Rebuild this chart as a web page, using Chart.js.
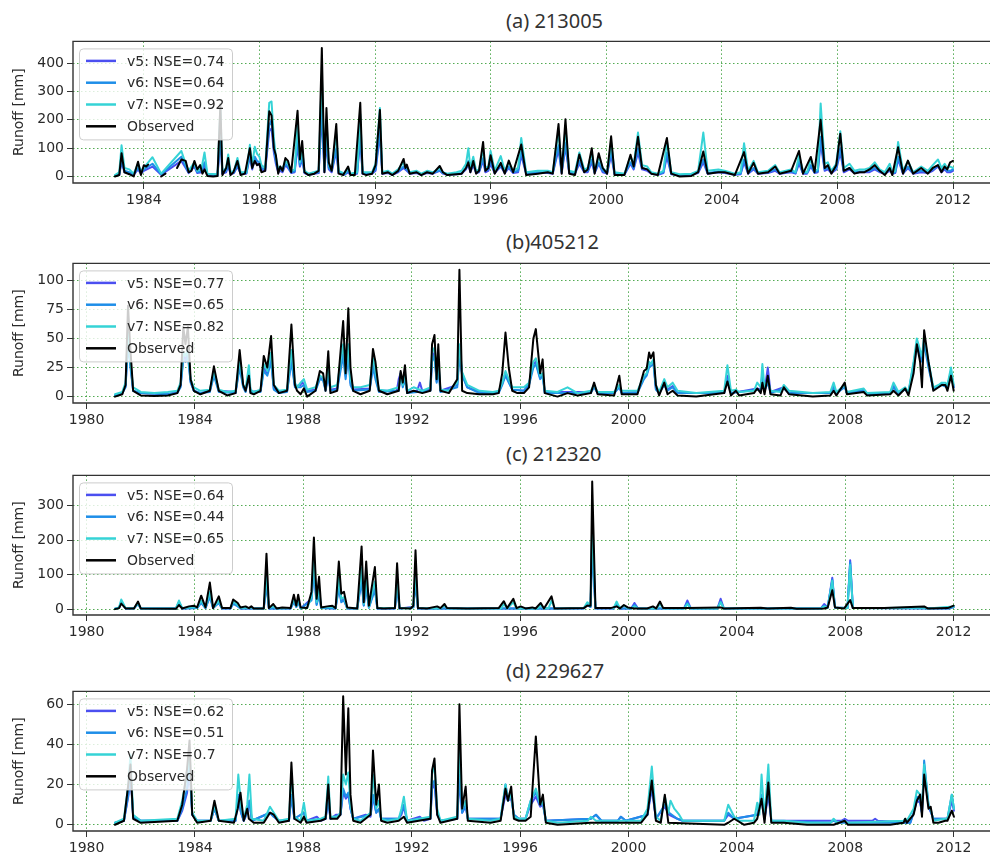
<!DOCTYPE html>
<html lang="en">
<head>
<meta charset="UTF-8">
<title>Runoff comparison</title>
<script src="https://cdn.jsdelivr.net/npm/chart.js"></script>
<style>
  body { margin: 0; background: #fff; width: 990px; height: 856px; overflow: hidden; position: relative; }
  canvas { position: absolute; left: 0; }
  .ttl { position: absolute; left: 506px; font: 20px "Noto Sans"; color: #333; line-height: 24px; white-space: nowrap; }
</style>
</head>
<body>
<div class="ttl" style="top:9px">(a) 213005</div>
<div class="ttl" style="top:230px">(b)405212</div>
<div class="ttl" style="top:442px">(c) 212320</div>
<div class="ttl" style="top:659px">(d) 229627</div>

<canvas id="cA" width="990" height="183" style="top:30px"></canvas>
<canvas id="cB" width="990" height="181" style="top:252px"></canvas>
<canvas id="cC" width="990" height="181" style="top:464px"></canvas>
<canvas id="cD" width="990" height="181" style="top:680px"></canvas>

<script>
// ---- tick labels ----
const xTicksA = [1984, 1988, 1992, 1996, 2000, 2004, 2008, 2012];
const xTicksBCD = [1980, 1984, 1988, 1992, 1996, 2000, 2004, 2008, 2012];
const yTicksA = [0, 100, 200, 300, 400];
const yTicksB = [0, 25, 50, 75, 100];
const yTicksC = [0, 100, 200, 300];
const yTicksD = [0, 20, 40, 60];

const nseA = [0.74, 0.64, 0.92];
const nseB = [0.77, 0.65, 0.82];
const nseC = [0.64, 0.44, 0.65];
const nseD = [0.62, 0.51, 0.7];

// ---- (a) 213005, [year, runoff mm] ----
const obsA = [[1983.0,0],[1983.15,5],[1983.23,82],[1983.33,15],[1983.5,8],[1983.65,0],[1983.8,52],[1983.9,5],[1984.0,40],[1984.08,35],[1984.15,42],[1984.2,null],[1984.6,0],[1984.75,10],[1984.8,null],[1985.15,30],[1985.3,60],[1985.45,55],[1985.55,15],[1985.65,20],[1985.75,55],[1985.85,25],[1985.95,40],[1986.03,10],[1986.1,25],[1986.2,2],[1986.4,0],[1986.55,2],[1986.65,255],[1986.72,5],[1986.85,30],[1986.92,65],[1987.0,5],[1987.1,15],[1987.24,55],[1987.35,5],[1987.5,10],[1987.67,100],[1987.75,30],[1987.84,55],[1987.92,40],[1988.0,45],[1988.07,15],[1988.2,20],[1988.34,230],[1988.42,215],[1988.5,100],[1988.57,75],[1988.65,10],[1988.72,35],[1988.8,20],[1988.9,65],[1988.99,55],[1989.1,15],[1989.32,232],[1989.4,60],[1989.48,125],[1989.56,15],[1989.7,5],[1989.9,10],[1990.05,20],[1990.16,454],[1990.25,15],[1990.32,242],[1990.4,50],[1990.5,20],[1990.66,185],[1990.74,10],[1990.9,5],[1991.07,35],[1991.15,5],[1991.3,5],[1991.49,260],[1991.57,10],[1991.7,5],[1991.9,10],[1992.02,40],[1992.17,235],[1992.25,10],[1992.45,15],[1992.6,5],[1992.8,20],[1992.99,62],[1993.05,30],[1993.1,42],[1993.2,10],[1993.44,15],[1993.6,5],[1993.8,15],[1994.0,10],[1994.24,37],[1994.35,15],[1994.5,5],[1994.82,8],[1995.0,10],[1995.15,30],[1995.23,50],[1995.3,15],[1995.4,55],[1995.5,10],[1995.6,20],[1995.74,122],[1995.82,20],[1995.92,30],[1996.0,75],[1996.14,10],[1996.35,48],[1996.49,10],[1996.63,56],[1996.78,15],[1997.06,113],[1997.23,5],[1997.63,10],[1997.98,15],[1998.15,10],[1998.35,185],[1998.46,10],[1998.59,202],[1998.72,10],[1998.92,5],[1999.07,78],[1999.24,15],[1999.36,25],[1999.5,100],[1999.6,10],[1999.74,82],[1999.88,30],[2000.03,10],[2000.17,142],[2000.29,5],[2000.63,5],[2000.84,77],[2000.95,35],[2001.1,140],[2001.24,30],[2001.42,25],[2001.56,10],[2001.79,5],[2002.1,136],[2002.25,10],[2002.54,0],[2002.95,2],[2003.18,15],[2003.36,88],[2003.51,10],[2003.88,15],[2004.1,15],[2004.45,5],[2004.77,86],[2004.91,10],[2005.1,48],[2005.25,10],[2005.6,15],[2005.85,35],[2006.0,10],[2006.4,20],[2006.67,90],[2006.81,10],[2007.08,69],[2007.21,15],[2007.42,200],[2007.56,30],[2007.67,40],[2007.79,10],[2007.96,40],[2008.1,151],[2008.22,20],[2008.42,30],[2008.59,10],[2008.77,15],[2008.94,15],[2009.11,25],[2009.29,40],[2009.46,20],[2009.64,5],[2009.81,30],[2009.9,5],[2010.1,103],[2010.27,10],[2010.44,56],[2010.62,10],[2010.9,30],[2011.13,10],[2011.3,30],[2011.48,40],[2011.6,15],[2011.71,35],[2011.8,25],[2011.9,50],[2012.0,55]];
const v7A = [[1983.0,5],[1983.15,15],[1983.23,110],[1983.33,30],[1983.5,25],[1983.65,10],[1983.8,45],[1983.9,20],[1984.0,30],[1984.3,68],[1984.6,10],[1985.3,90],[1985.45,45],[1985.55,20],[1985.75,50],[1985.85,20],[1986.0,30],[1986.1,85],[1986.2,10],[1986.55,8],[1986.65,240],[1986.72,15],[1986.85,30],[1986.92,78],[1987.0,15],[1987.12,20],[1987.24,65],[1987.35,15],[1987.55,15],[1987.67,112],[1987.75,40],[1987.84,105],[1987.92,80],[1988.0,70],[1988.07,40],[1988.2,30],[1988.34,260],[1988.42,265],[1988.5,135],[1988.57,70],[1988.65,25],[1988.72,35],[1988.8,25],[1988.9,55],[1988.99,45],[1989.1,20],[1989.22,25],[1989.32,190],[1989.4,50],[1989.48,95],[1989.56,20],[1989.7,10],[1990.05,20],[1990.16,360],[1990.25,25],[1990.32,200],[1990.4,40],[1990.5,25],[1990.66,150],[1990.74,20],[1990.95,10],[1991.07,30],[1991.15,10],[1991.38,15],[1991.49,220],[1991.57,15],[1991.9,15],[1992.02,45],[1992.17,242],[1992.25,15],[1992.45,20],[1992.6,10],[1992.8,25],[1992.99,50],[1993.05,30],[1993.1,35],[1993.2,15],[1993.44,20],[1993.6,10],[1993.8,20],[1994.0,15],[1994.24,30],[1994.35,15],[1994.5,10],[1994.82,15],[1995.0,20],[1995.15,45],[1995.23,100],[1995.3,30],[1995.4,70],[1995.5,20],[1995.6,25],[1995.74,95],[1995.82,30],[1995.92,35],[1996.0,90],[1996.14,20],[1996.35,72],[1996.49,20],[1996.63,50],[1996.78,20],[1996.95,30],[1997.06,136],[1997.23,15],[1997.63,20],[1997.98,20],[1998.15,15],[1998.35,160],[1998.46,20],[1998.59,170],[1998.72,20],[1998.92,15],[1999.07,85],[1999.24,25],[1999.36,30],[1999.5,85],[1999.6,20],[1999.74,70],[1999.88,30],[2000.03,15],[2000.17,120],[2000.29,15],[2000.63,10],[2000.84,70],[2000.95,40],[2001.1,155],[2001.24,40],[2001.42,35],[2001.56,15],[2001.79,10],[2001.98,20],[2002.1,125],[2002.25,15],[2002.54,8],[2002.95,10],[2003.18,20],[2003.36,155],[2003.51,20],[2003.88,25],[2004.1,20],[2004.45,10],[2004.65,15],[2004.77,117],[2004.91,20],[2005.1,55],[2005.25,15],[2005.6,20],[2005.85,40],[2006.0,15],[2006.4,25],[2006.55,15],[2006.67,75],[2006.81,20],[2006.95,15],[2007.08,62],[2007.21,20],[2007.32,25],[2007.42,258],[2007.56,45],[2007.67,50],[2007.79,20],[2007.96,45],[2008.1,160],[2008.22,30],[2008.42,45],[2008.59,20],[2008.77,25],[2008.94,25],[2009.11,30],[2009.29,50],[2009.46,25],[2009.64,15],[2009.81,45],[2009.9,15],[2010.0,20],[2010.1,122],[2010.27,20],[2010.44,55],[2010.62,15],[2010.9,35],[2011.13,20],[2011.3,40],[2011.48,60],[2011.6,30],[2011.71,45],[2011.8,30],[2011.9,35],[2012.0,30]];
const v6A = [[1983.0,3],[1983.15,8],[1983.23,60],[1983.33,20],[1983.5,15],[1983.65,8],[1983.8,30],[1983.9,12],[1984.0,25],[1984.3,45],[1984.6,8],[1985.3,70],[1985.45,35],[1985.55,15],[1985.75,40],[1985.85,15],[1986.0,20],[1986.1,50],[1986.2,8],[1986.55,5],[1986.65,150],[1986.72,12],[1986.85,20],[1986.92,50],[1987.0,10],[1987.12,15],[1987.24,40],[1987.35,12],[1987.55,12],[1987.67,80],[1987.75,30],[1987.84,70],[1987.92,55],[1988.0,50],[1988.07,30],[1988.2,25],[1988.34,180],[1988.42,200],[1988.5,100],[1988.57,55],[1988.65,20],[1988.72,25],[1988.8,20],[1988.9,45],[1988.99,35],[1989.1,15],[1989.22,18],[1989.32,130],[1989.4,40],[1989.48,70],[1989.56,15],[1989.7,8],[1990.05,15],[1990.16,250],[1990.25,20],[1990.32,140],[1990.4,30],[1990.5,20],[1990.66,100],[1990.74,15],[1990.95,8],[1991.07,20],[1991.15,8],[1991.38,12],[1991.49,150],[1991.57,12],[1991.9,12],[1992.02,25],[1992.17,170],[1992.25,12],[1992.45,15],[1992.6,8],[1992.8,18],[1992.99,35],[1993.1,25],[1993.2,12],[1993.44,15],[1993.6,8],[1993.8,15],[1994.0,12],[1994.24,22],[1994.35,12],[1994.5,8],[1994.82,10],[1995.0,12],[1995.15,30],[1995.23,55],[1995.3,20],[1995.4,45],[1995.5,15],[1995.6,18],[1995.74,65],[1995.82,20],[1995.92,25],[1996.0,55],[1996.14,15],[1996.35,40],[1996.49,15],[1996.63,35],[1996.78,15],[1996.95,20],[1997.06,90],[1997.23,12],[1997.63,15],[1997.98,15],[1998.15,12],[1998.35,110],[1998.46,15],[1998.59,120],[1998.72,15],[1998.92,12],[1999.07,55],[1999.24,18],[1999.36,20],[1999.5,60],[1999.6,15],[1999.74,50],[1999.88,20],[2000.03,12],[2000.17,90],[2000.29,10],[2000.63,8],[2000.84,50],[2000.95,30],[2001.1,100],[2001.24,30],[2001.42,25],[2001.56,12],[2001.79,8],[2001.98,15],[2002.1,85],[2002.25,10],[2002.54,5],[2002.95,8],[2003.18,15],[2003.36,60],[2003.51,12],[2003.88,18],[2004.1,15],[2004.45,8],[2004.65,10],[2004.77,60],[2004.91,12],[2005.1,30],[2005.25,12],[2005.6,15],[2005.85,25],[2006.0,12],[2006.4,18],[2006.55,12],[2006.67,55],[2006.81,12],[2006.95,12],[2007.08,40],[2007.21,15],[2007.32,18],[2007.42,140],[2007.56,25],[2007.67,30],[2007.79,15],[2007.96,30],[2008.1,100],[2008.22,20],[2008.42,30],[2008.59,15],[2008.77,18],[2008.94,18],[2009.11,20],[2009.29,30],[2009.46,18],[2009.64,12],[2009.81,25],[2009.9,12],[2010.0,15],[2010.1,70],[2010.27,12],[2010.44,35],[2010.62,12],[2010.9,20],[2011.13,15],[2011.3,25],[2011.48,40],[2011.6,20],[2011.71,30],[2011.8,20],[2011.9,20],[2012.0,25]];
const v5A = [[1983.0,2],[1983.15,6],[1983.23,50],[1983.33,15],[1983.5,12],[1983.65,6],[1983.8,25],[1983.9,10],[1984.0,20],[1984.3,35],[1984.6,6],[1985.3,55],[1985.45,30],[1985.55,12],[1985.75,35],[1985.85,12],[1986.0,15],[1986.1,40],[1986.2,6],[1986.55,4],[1986.65,130],[1986.72,10],[1986.85,15],[1986.92,40],[1987.0,8],[1987.12,12],[1987.24,35],[1987.35,10],[1987.55,10],[1987.67,70],[1987.75,25],[1987.84,60],[1987.92,45],[1988.0,40],[1988.07,25],[1988.2,20],[1988.34,160],[1988.42,170],[1988.5,85],[1988.57,45],[1988.65,15],[1988.72,20],[1988.8,15],[1988.9,40],[1988.99,30],[1989.1,12],[1989.22,15],[1989.32,110],[1989.4,35],[1989.48,60],[1989.56,12],[1989.7,6],[1990.05,12],[1990.16,220],[1990.25,15],[1990.32,120],[1990.4,25],[1990.5,15],[1990.66,90],[1990.74,12],[1990.95,6],[1991.07,15],[1991.15,6],[1991.38,10],[1991.49,130],[1991.57,10],[1991.9,10],[1992.02,20],[1992.17,150],[1992.25,10],[1992.45,12],[1992.6,6],[1992.8,15],[1992.99,30],[1993.1,20],[1993.2,10],[1993.44,12],[1993.6,6],[1993.8,12],[1994.0,10],[1994.24,20],[1994.35,10],[1994.5,6],[1994.82,8],[1995.0,10],[1995.15,25],[1995.23,45],[1995.3,15],[1995.4,40],[1995.5,12],[1995.6,15],[1995.74,55],[1995.82,15],[1995.92,20],[1996.0,45],[1996.14,12],[1996.35,35],[1996.49,12],[1996.63,30],[1996.78,12],[1996.95,15],[1997.06,75],[1997.23,10],[1997.63,12],[1997.98,12],[1998.15,10],[1998.35,95],[1998.46,12],[1998.59,105],[1998.72,12],[1998.92,10],[1999.07,45],[1999.24,15],[1999.36,15],[1999.5,50],[1999.6,12],[1999.74,45],[1999.88,15],[2000.03,10],[2000.17,75],[2000.29,8],[2000.63,6],[2000.84,45],[2000.95,25],[2001.1,85],[2001.24,25],[2001.42,20],[2001.56,10],[2001.79,6],[2001.98,12],[2002.1,70],[2002.25,8],[2002.54,4],[2002.95,6],[2003.18,12],[2003.36,50],[2003.51,10],[2003.88,15],[2004.1,12],[2004.45,6],[2004.65,8],[2004.77,50],[2004.91,10],[2005.1,25],[2005.25,10],[2005.6,12],[2005.85,20],[2006.0,10],[2006.4,15],[2006.55,10],[2006.67,45],[2006.81,10],[2006.95,10],[2007.08,35],[2007.21,12],[2007.32,15],[2007.42,120],[2007.56,20],[2007.67,25],[2007.79,12],[2007.96,25],[2008.1,85],[2008.22,15],[2008.42,25],[2008.59,12],[2008.77,15],[2008.94,15],[2009.11,15],[2009.29,25],[2009.46,15],[2009.64,10],[2009.81,20],[2009.9,10],[2010.0,12],[2010.1,60],[2010.27,10],[2010.44,30],[2010.62,10],[2010.9,15],[2011.13,12],[2011.3,20],[2011.48,35],[2011.6,15],[2011.71,25],[2011.8,15],[2011.9,15],[2012.0,20]];

// ---- (b) 405212 ----
const obsB = [[1981.05,0],[1981.32,2],[1981.44,10],[1981.53,78],[1981.62,40],[1981.72,5],[1982.0,1],[1982.5,0.5],[1983.0,1],[1983.35,3],[1983.47,10],[1983.57,60],[1983.65,45],[1983.74,60],[1983.84,15],[1983.96,5],[1984.2,2],[1984.55,5],[1984.7,26],[1984.88,5],[1985.19,1],[1985.5,3],[1985.65,40],[1985.78,10],[1985.87,5],[1985.99,18],[1986.05,3],[1986.17,2],[1986.42,5],[1986.54,35],[1986.67,25],[1986.81,52],[1986.91,10],[1987.1,3],[1987.4,5],[1987.56,62],[1987.69,10],[1987.77,5],[1987.9,2],[1988.02,7],[1988.14,0],[1988.45,5],[1988.61,22],[1988.73,20],[1988.82,5],[1988.92,39],[1989.0,3],[1989.25,5],[1989.47,65],[1989.56,20],[1989.66,76],[1989.74,25],[1989.84,5],[1990.11,2],[1990.45,5],[1990.57,41],[1990.66,30],[1990.79,5],[1991.1,2],[1991.52,5],[1991.59,22],[1991.67,12],[1991.75,27],[1991.83,3],[1992.07,5],[1992.39,3],[1992.69,5],[1992.75,45],[1992.84,53],[1992.92,15],[1992.98,45],[1993.06,5],[1993.37,3],[1993.68,15],[1993.76,109],[1993.86,5],[1994.05,3],[1994.5,2],[1995.0,2],[1995.21,3],[1995.34,20],[1995.46,55],[1995.58,25],[1995.71,5],[1995.9,3],[1996.14,3],[1996.33,8],[1996.49,50],[1996.58,58],[1996.74,20],[1996.83,32],[1996.91,3],[1997.38,0],[1997.75,3],[1998.12,1],[1998.61,3],[1998.73,12],[1998.86,2],[1999.47,1],[1999.66,18],[1999.75,2],[2000.33,2],[2000.57,22],[2000.67,24],[2000.76,38],[2000.82,33],[2000.92,38],[2001.01,10],[2001.13,1],[2001.32,12],[2001.44,2],[2001.63,5],[2001.81,1],[2002.5,0],[2003.53,3],[2003.65,13],[2003.78,1],[2003.96,5],[2004.08,1],[2004.63,3],[2004.75,7],[2004.88,3],[2004.94,12],[2005.02,2],[2005.14,18],[2005.24,2],[2005.61,1],[2005.73,8],[2005.92,2],[2006.8,0],[2007.45,1],[2007.57,5],[2007.67,1],[2007.98,12],[2008.06,2],[2008.68,4],[2008.8,1],[2009.66,2],[2009.78,5],[2009.96,1],[2010.21,7],[2010.33,1],[2010.52,20],[2010.64,45],[2010.76,30],[2010.83,8],[2010.91,57],[2011.07,30],[2011.25,5],[2011.44,8],[2011.56,10],[2011.69,10],[2011.77,5],[2011.9,18],[2012.0,5]];
const v7B = [[1981.05,2],[1981.32,4],[1981.44,12],[1981.53,55],[1981.62,30],[1981.72,8],[1982.0,4],[1982.5,3],[1983.0,4],[1983.35,5],[1983.47,12],[1983.57,38],[1983.65,35],[1983.74,40],[1983.84,15],[1983.96,8],[1984.2,5],[1984.55,6],[1984.7,22],[1984.88,6],[1985.19,4],[1985.5,5],[1985.65,32],[1985.78,10],[1985.87,6],[1985.99,27],[1986.05,6],[1986.17,4],[1986.42,6],[1986.54,28],[1986.67,22],[1986.81,38],[1986.91,10],[1987.1,5],[1987.4,6],[1987.56,40],[1987.69,12],[1987.77,8],[1987.9,12],[1988.02,15],[1988.14,6],[1988.45,8],[1988.61,18],[1988.73,16],[1988.82,8],[1988.92,25],[1989.0,8],[1989.25,10],[1989.47,45],[1989.56,20],[1989.66,45],[1989.74,15],[1989.84,8],[1990.11,8],[1990.45,10],[1990.57,33],[1990.66,22],[1990.79,6],[1991.1,5],[1991.52,8],[1991.59,18],[1991.67,10],[1991.75,20],[1991.83,5],[1992.07,8],[1992.39,5],[1992.69,8],[1992.75,38],[1992.84,42],[1992.92,15],[1992.98,32],[1993.06,6],[1993.37,5],[1993.68,12],[1993.76,45],[1993.86,21],[1994.05,10],[1994.5,5],[1995.0,4],[1995.21,5],[1995.34,12],[1995.46,22],[1995.58,15],[1995.71,8],[1995.9,8],[1996.14,8],[1996.33,12],[1996.49,30],[1996.58,33],[1996.74,18],[1996.83,20],[1996.91,5],[1997.38,4],[1997.75,8],[1998.12,3],[1998.61,5],[1998.73,10],[1998.86,4],[1999.47,4],[1999.66,10],[1999.75,5],[2000.33,5],[2000.57,18],[2000.67,20],[2000.76,30],[2000.82,28],[2000.92,32],[2001.01,10],[2001.13,4],[2001.32,15],[2001.44,8],[2001.63,12],[2001.81,5],[2002.5,3],[2003.53,5],[2003.65,27],[2003.78,5],[2003.96,6],[2004.08,4],[2004.63,5],[2004.75,12],[2004.88,8],[2004.94,28],[2005.02,8],[2005.14,15],[2005.24,5],[2005.61,4],[2005.73,10],[2005.92,5],[2006.8,3],[2007.45,4],[2007.57,12],[2007.67,4],[2007.98,10],[2008.06,4],[2008.68,7],[2008.8,3],[2009.66,4],[2009.78,12],[2009.96,4],[2010.21,8],[2010.33,4],[2010.52,30],[2010.64,50],[2010.76,40],[2010.83,35],[2010.91,52],[2011.07,30],[2011.25,8],[2011.44,10],[2011.56,12],[2011.69,12],[2011.77,10],[2011.9,25],[2012.0,10]];
const v6B = [[1981.05,1],[1981.32,3],[1981.44,8],[1981.53,45],[1981.62,25],[1981.72,5],[1982.0,3],[1983.0,2],[1983.35,3],[1983.47,8],[1983.57,32],[1983.65,30],[1983.74,35],[1983.84,12],[1983.96,5],[1984.2,3],[1984.55,4],[1984.7,18],[1984.88,4],[1985.5,3],[1985.65,25],[1985.78,8],[1985.87,4],[1985.99,18],[1986.05,4],[1986.42,4],[1986.54,22],[1986.67,18],[1986.81,30],[1986.91,6],[1987.1,3],[1987.4,4],[1987.56,30],[1987.69,8],[1987.9,8],[1988.02,10],[1988.14,4],[1988.45,5],[1988.61,15],[1988.73,14],[1988.82,5],[1988.92,18],[1989.0,5],[1989.25,6],[1989.47,35],[1989.56,15],[1989.66,35],[1989.74,10],[1989.84,5],[1990.45,6],[1990.57,25],[1990.66,15],[1990.79,4],[1991.52,5],[1991.59,20],[1991.67,8],[1991.75,15],[1991.83,3],[1992.69,5],[1992.75,30],[1992.84,35],[1992.92,12],[1992.98,25],[1993.06,4],[1993.68,8],[1993.76,35],[1993.86,18],[1994.05,8],[1994.5,3],[1995.21,3],[1995.34,10],[1995.46,18],[1995.58,12],[1995.71,6],[1996.14,5],[1996.33,10],[1996.49,25],[1996.58,28],[1996.74,15],[1996.83,18],[1996.91,3],[1998.61,3],[1998.73,8],[1998.86,3],[1999.47,3],[1999.66,8],[1999.75,3],[2000.33,3],[2000.57,15],[2000.67,18],[2000.76,25],[2000.92,28],[2001.01,6],[2001.13,3],[2001.32,10],[2001.44,5],[2001.63,8],[2001.81,3],[2003.53,3],[2003.65,15],[2003.78,3],[2004.75,6],[2004.88,5],[2004.94,18],[2005.02,5],[2005.14,12],[2005.24,3],[2005.73,7],[2005.92,3],[2007.45,3],[2007.57,8],[2007.67,3],[2007.98,8],[2008.06,3],[2008.68,5],[2008.8,2],[2009.66,3],[2009.78,8],[2009.96,3],[2010.21,6],[2010.33,3],[2010.52,25],[2010.64,42],[2010.76,35],[2010.83,30],[2010.91,45],[2011.07,25],[2011.25,6],[2011.56,10],[2011.77,8],[2011.9,20],[2012.0,8]];
const v5B = [[1981.05,1],[1981.32,3],[1981.44,9],[1981.53,50],[1981.62,28],[1981.72,5],[1982.0,3],[1983.0,2],[1983.35,4],[1983.47,9],[1983.57,35],[1983.65,32],[1983.74,38],[1983.84,13],[1983.96,5],[1984.2,3],[1984.55,5],[1984.7,20],[1984.88,5],[1985.5,4],[1985.65,28],[1985.78,9],[1985.87,5],[1985.99,20],[1986.05,4],[1986.42,5],[1986.54,25],[1986.67,20],[1986.81,33],[1986.91,7],[1987.1,4],[1987.4,5],[1987.56,33],[1987.69,9],[1987.9,10],[1987.95,13],[1988.14,5],[1988.45,6],[1988.61,17],[1988.73,15],[1988.82,6],[1988.92,20],[1989.0,6],[1989.25,7],[1989.47,40],[1989.56,18],[1989.66,40],[1989.74,12],[1989.84,6],[1990.45,7],[1990.57,28],[1990.66,18],[1990.79,5],[1991.45,5],[1991.52,15],[1991.59,20],[1991.67,10],[1991.75,18],[1991.83,4],[1992.2,5],[1992.3,12],[1992.39,5],[1992.69,6],[1992.75,33],[1992.84,38],[1992.92,13],[1992.98,28],[1993.06,5],[1993.68,10],[1993.76,40],[1993.86,20],[1994.05,8],[1994.5,4],[1995.21,4],[1995.34,11],[1995.46,20],[1995.58,13],[1995.71,6],[1996.14,5],[1996.33,11],[1996.49,28],[1996.58,30],[1996.74,16],[1996.83,19],[1996.91,4],[1998.61,4],[1998.73,9],[1998.86,3],[1999.47,3],[1999.66,9],[1999.75,3],[2000.33,4],[2000.57,16],[2000.67,19],[2000.76,28],[2000.92,30],[2001.01,7],[2001.13,3],[2001.32,12],[2001.44,6],[2001.63,9],[2001.81,3],[2003.53,3],[2003.65,18],[2003.78,3],[2004.75,7],[2004.88,6],[2004.94,20],[2005.02,5],[2005.14,25],[2005.24,4],[2005.73,8],[2005.92,3],[2007.45,3],[2007.57,9],[2007.67,3],[2007.98,9],[2008.06,3],[2008.68,6],[2008.8,3],[2009.66,3],[2009.78,9],[2009.96,3],[2010.21,7],[2010.33,3],[2010.52,28],[2010.64,45],[2010.76,38],[2010.83,32],[2010.91,48],[2011.07,28],[2011.25,6],[2011.56,11],[2011.77,9],[2011.9,22],[2012.0,8]];

// ---- (c) 212320 ----
const obsC = [[1981.05,0],[1981.2,3],[1981.28,16],[1981.44,2],[1981.75,2],[1981.9,22],[1982.0,2],[1983.3,1],[1983.41,12],[1983.53,2],[1983.78,8],[1983.96,10],[1984.08,5],[1984.23,39],[1984.39,5],[1984.55,77],[1984.67,3],[1984.88,37],[1985.0,3],[1985.31,3],[1985.41,28],[1985.58,18],[1985.68,5],[1985.87,8],[1985.99,3],[1986.08,8],[1986.17,2],[1986.54,2],[1986.64,161],[1986.73,3],[1986.89,15],[1987.01,2],[1987.22,5],[1987.53,3],[1987.65,42],[1987.74,10],[1987.81,42],[1987.9,5],[1988.14,3],[1988.3,50],[1988.39,208],[1988.49,30],[1988.58,94],[1988.66,5],[1988.88,8],[1989.07,10],[1989.19,3],[1989.31,138],[1989.4,45],[1989.5,50],[1989.62,5],[1989.99,2],[1990.15,182],[1990.23,20],[1990.32,138],[1990.42,10],[1990.64,122],[1990.73,3],[1990.97,2],[1991.38,3],[1991.46,133],[1991.55,3],[1991.96,2],[1992.06,10],[1992.14,171],[1992.23,3],[1992.57,2],[1992.94,8],[1993.06,3],[1993.21,15],[1993.3,3],[1994.05,2],[1995.21,3],[1995.4,23],[1995.52,3],[1995.75,30],[1995.87,3],[1996.02,8],[1996.2,2],[1996.45,5],[1996.57,2],[1996.76,18],[1996.88,2],[1997.16,37],[1997.27,2],[1998.35,3],[1998.48,10],[1998.6,10],[1998.66,370],[1998.78,3],[1999.34,3],[1999.56,8],[1999.68,2],[1999.83,12],[1999.97,5],[2000.22,2],[2000.69,2],[2000.9,8],[2001.02,2],[2001.16,22],[2001.28,3],[2002.17,3],[2003.4,5],[2003.52,2],[2004.88,4],[2005.13,2],[2005.99,4],[2006.2,1],[2007.22,2],[2007.35,5],[2007.52,55],[2007.62,5],[2007.96,2],[2008.18,26],[2008.28,3],[2009.44,3],[2010.91,8],[2011.04,2],[2011.78,3],[2012.0,10]];
const v7C = [[1981.05,1],[1981.2,5],[1981.28,28],[1981.44,3],[1981.75,2],[1981.9,18],[1982.0,2],[1983.3,2],[1983.41,25],[1983.53,3],[1983.78,5],[1983.96,6],[1984.08,4],[1984.23,25],[1984.39,4],[1984.55,50],[1984.67,4],[1984.88,25],[1985.0,3],[1985.31,3],[1985.41,22],[1985.58,12],[1985.68,4],[1985.87,5],[1985.99,3],[1986.08,5],[1986.17,2],[1986.54,2],[1986.64,100],[1986.73,3],[1986.89,8],[1987.01,2],[1987.53,3],[1987.65,30],[1987.74,8],[1987.81,30],[1987.9,3],[1988.14,3],[1988.3,35],[1988.39,150],[1988.49,20],[1988.58,60],[1988.66,4],[1988.88,6],[1989.07,7],[1989.19,3],[1989.31,90],[1989.4,30],[1989.5,35],[1989.62,3],[1989.99,2],[1990.15,120],[1990.23,15],[1990.32,90],[1990.42,6],[1990.64,80],[1990.73,3],[1991.38,3],[1991.46,90],[1991.55,3],[1991.96,2],[1992.06,8],[1992.14,110],[1992.23,3],[1993.06,2],[1993.21,10],[1993.3,2],[1995.3,2],[1995.4,15],[1995.52,2],[1995.75,20],[1995.87,2],[1996.66,2],[1996.76,12],[1996.88,2],[1997.05,3],[1997.16,25],[1997.27,2],[1998.35,3],[1998.48,20],[1998.6,10],[1998.66,250],[1998.78,3],[1999.45,3],[1999.56,22],[1999.68,3],[1999.83,10],[1999.97,3],[2000.1,2],[2000.22,8],[2000.35,2],[2001.05,2],[2001.16,15],[2001.28,2],[2002.05,2],[2002.17,15],[2002.3,2],[2003.28,2],[2003.4,20],[2003.52,2],[2007.1,2],[2007.22,8],[2007.35,5],[2007.52,82],[2007.62,5],[2008.08,3],[2008.18,128],[2008.28,3],[2009.4,3],[2010.9,5],[2011.05,2],[2012.0,8]];
const v6C = [[1981.05,1],[1981.2,4],[1981.28,20],[1981.44,2],[1981.75,2],[1981.9,15],[1982.0,2],[1983.3,2],[1983.41,18],[1983.53,2],[1984.08,3],[1984.23,18],[1984.39,3],[1984.55,35],[1984.67,3],[1984.88,18],[1985.0,2],[1985.31,2],[1985.41,15],[1985.58,8],[1985.68,2],[1986.54,2],[1986.64,70],[1986.73,2],[1987.53,2],[1987.65,20],[1987.74,6],[1987.81,20],[1987.9,2],[1988.3,25],[1988.39,110],[1988.49,12],[1988.58,40],[1988.66,3],[1989.19,2],[1989.31,60],[1989.4,20],[1989.5,25],[1989.62,2],[1989.99,2],[1990.15,80],[1990.23,10],[1990.32,60],[1990.42,4],[1990.64,55],[1990.73,2],[1991.38,2],[1991.46,60],[1991.55,2],[1992.06,5],[1992.14,75],[1992.23,2],[1998.35,2],[1998.48,12],[1998.6,6],[1998.66,180],[1998.78,2],[1999.45,2],[1999.56,12],[1999.68,2],[2000.1,2],[2000.22,12],[2000.35,2],[2002.05,2],[2002.17,18],[2002.3,2],[2003.28,2],[2003.4,22],[2003.52,2],[2007.1,2],[2007.22,10],[2007.35,4],[2007.52,85],[2007.62,4],[2008.08,3],[2008.18,135],[2008.28,3],[2011.8,2],[2012.0,6]];
const v5C = [[1981.05,1],[1981.2,4],[1981.28,22],[1981.44,2],[1981.75,2],[1981.9,16],[1982.0,2],[1983.3,2],[1983.41,20],[1983.53,2],[1984.08,3],[1984.23,20],[1984.39,3],[1984.55,40],[1984.67,3],[1984.88,20],[1985.0,2],[1985.31,2],[1985.41,18],[1985.58,10],[1985.68,2],[1986.54,2],[1986.64,80],[1986.73,2],[1987.53,2],[1987.65,25],[1987.74,7],[1987.81,25],[1987.9,2],[1988.3,30],[1988.39,120],[1988.49,15],[1988.58,45],[1988.66,3],[1989.19,2],[1989.31,70],[1989.4,25],[1989.5,28],[1989.62,2],[1989.99,2],[1990.15,95],[1990.23,12],[1990.32,70],[1990.42,5],[1990.64,65],[1990.73,2],[1991.38,2],[1991.46,70],[1991.55,2],[1992.06,6],[1992.14,85],[1992.23,2],[1998.35,2],[1998.48,15],[1998.6,7],[1998.66,200],[1998.78,2],[1999.45,2],[1999.56,15],[1999.68,2],[2000.1,2],[2000.22,18],[2000.35,2],[2002.05,2],[2002.17,25],[2002.3,2],[2003.28,2],[2003.4,30],[2003.52,2],[2007.1,2],[2007.22,15],[2007.35,5],[2007.52,91],[2007.62,5],[2008.08,3],[2008.18,142],[2008.28,3],[2011.8,2],[2012.0,6]];

// ---- (d) 229627 ----
const obsD = [[1981.05,0],[1981.38,2],[1981.54,20],[1981.62,30],[1981.72,3],[1982.0,1],[1983.35,2],[1983.53,10],[1983.71,28],[1983.8,42],[1983.9,5],[1984.08,1],[1984.58,2],[1984.72,12],[1984.88,2],[1985.44,1],[1985.58,8],[1985.68,16],[1985.8,2],[1985.93,8],[1985.99,3],[1986.17,1],[1986.54,1],[1986.77,6],[1986.91,5],[1987.1,1],[1987.47,2],[1987.56,31],[1987.67,3],[1987.9,1],[1988.02,4],[1988.12,1],[1988.64,2],[1988.82,3],[1988.92,20],[1989.0,3],[1989.25,3],[1989.37,5],[1989.47,64],[1989.57,25],[1989.66,58],[1989.74,15],[1989.84,2],[1990.11,1],[1990.48,5],[1990.57,37],[1990.69,10],[1990.79,20],[1990.87,2],[1991.1,1],[1991.52,2],[1991.71,4],[1991.83,1],[1992.69,3],[1992.75,27],[1992.84,33],[1992.94,5],[1993.06,1],[1993.68,3],[1993.76,60],[1993.86,8],[1993.99,19],[1994.07,2],[1994.91,1],[1995.28,2],[1995.46,18],[1995.55,12],[1995.67,19],[1995.77,3],[1995.95,2],[1996.2,2],[1996.39,4],[1996.58,44],[1996.74,10],[1996.84,15],[1996.95,1],[1997.38,0],[1998.61,1],[1999.72,1],[2000.46,1],[2000.7,5],[2000.86,22],[2001.01,2],[2001.19,1],[2001.34,15],[2001.47,1],[2003.53,0],[2003.68,1],[2003.9,3],[2004.27,0],[2004.63,1],[2004.75,3],[2004.91,13],[2005.02,1],[2005.16,21],[2005.27,1],[2005.73,1],[2006.59,0],[2007.57,0],[2007.98,2],[2008.1,0],[2009.66,0],[2010.15,1],[2010.21,3],[2010.27,1],[2010.52,5],[2010.64,12],[2010.76,15],[2010.83,4],[2010.91,25],[2011.07,8],[2011.15,9],[2011.25,1],[2011.44,1],[2011.69,2],[2011.77,2],[2011.93,7],[2012.01,4]];
const v7D = [[1981.05,1],[1981.38,3],[1981.54,20],[1981.62,35],[1981.72,5],[1982.0,2],[1983.35,3],[1983.53,12],[1983.71,25],[1983.8,38],[1983.9,6],[1984.08,2],[1984.58,2],[1984.72,10],[1984.88,2],[1985.5,3],[1985.6,25],[1985.7,10],[1985.8,3],[1985.93,10],[1986.01,25],[1986.1,3],[1986.54,2],[1986.77,9],[1986.91,6],[1987.1,2],[1987.47,3],[1987.56,25],[1987.67,4],[1987.9,2],[1988.02,11],[1988.12,2],[1988.64,3],[1988.82,4],[1988.92,24],[1989.0,4],[1989.25,4],[1989.37,6],[1989.47,25],[1989.57,20],[1989.66,26],[1989.74,10],[1989.84,3],[1990.11,2],[1990.48,6],[1990.57,25],[1990.69,8],[1990.79,12],[1990.87,3],[1991.1,2],[1991.52,3],[1991.62,8],[1991.71,14],[1991.83,2],[1992.69,4],[1992.75,25],[1992.84,30],[1992.94,8],[1993.06,2],[1993.68,4],[1993.76,40],[1993.86,8],[1993.99,12],[1994.07,3],[1994.91,2],[1995.28,3],[1995.46,20],[1995.55,12],[1995.67,15],[1995.77,4],[1995.95,3],[1996.2,3],[1996.39,12],[1996.58,18],[1996.74,10],[1996.84,12],[1996.95,2],[1997.38,1],[1998.5,2],[1998.61,4],[1998.8,2],[1999.72,2],[2000.46,2],[2000.7,8],[2000.86,29],[2001.01,4],[2001.19,2],[2001.34,14],[2001.47,6],[2001.55,12],[2001.69,8],[2001.87,5],[2002.0,2],[2003.53,2],[2003.68,10],[2003.9,4],[2004.1,2],[2004.63,2],[2004.75,11],[2004.83,5],[2004.91,25],[2005.02,3],[2005.16,30],[2005.27,2],[2005.73,2],[2006.59,1],[2007.45,1],[2007.57,3],[2007.7,1],[2007.98,2],[2008.1,1],[2010.15,2],[2010.21,3],[2010.27,2],[2010.52,8],[2010.64,17],[2010.76,15],[2010.83,8],[2010.91,30],[2011.07,10],[2011.15,8],[2011.25,2],[2011.69,3],[2011.77,3],[2011.93,15],[2012.01,8]];
const v6D = [[1981.05,1],[1981.38,2],[1981.54,15],[1981.62,28],[1981.72,4],[1982.0,2],[1983.35,2],[1983.53,8],[1983.71,18],[1983.8,30],[1983.9,5],[1984.08,2],[1984.58,2],[1984.72,8],[1984.88,2],[1985.5,2],[1985.6,15],[1985.7,6],[1985.8,2],[1985.93,6],[1986.01,12],[1986.1,2],[1986.77,6],[1986.91,4],[1987.1,2],[1987.47,2],[1987.56,15],[1987.67,3],[1988.02,6],[1988.12,2],[1988.82,3],[1988.92,12],[1989.0,3],[1989.37,5],[1989.47,18],[1989.57,14],[1989.66,16],[1989.74,8],[1989.84,3],[1990.48,5],[1990.57,15],[1990.69,6],[1990.79,8],[1990.87,3],[1991.52,3],[1991.62,6],[1991.71,10],[1991.83,2],[1992.69,3],[1992.75,20],[1992.84,22],[1992.94,6],[1993.06,2],[1993.68,3],[1993.76,25],[1993.86,6],[1993.99,10],[1994.07,3],[1995.28,3],[1995.46,20],[1995.55,14],[1995.67,15],[1995.77,5],[1995.95,3],[1996.2,3],[1996.39,12],[1996.58,16],[1996.74,10],[1996.84,11],[1996.95,2],[1998.61,3],[1998.8,5],[1999.0,2],[1999.6,2],[1999.72,4],[1999.9,2],[2000.7,5],[2000.86,20],[2001.01,3],[2001.34,10],[2001.5,6],[2001.8,3],[2002.0,2],[2003.53,2],[2003.68,6],[2003.9,3],[2004.75,5],[2004.91,15],[2005.02,3],[2005.16,18],[2005.27,2],[2007.45,1],[2007.57,2],[2007.7,1],[2010.4,1],[2010.52,6],[2010.64,14],[2010.76,12],[2010.83,6],[2010.91,32],[2011.07,10],[2011.25,3],[2011.77,3],[2011.93,15],[2012.01,8]];
const v5D = [[1981.05,1],[1981.38,2],[1981.54,14],[1981.62,25],[1981.72,4],[1982.0,2],[1983.35,2],[1983.53,7],[1983.71,16],[1983.8,28],[1983.9,5],[1984.08,2],[1984.58,2],[1984.72,8],[1984.88,2],[1985.5,2],[1985.6,14],[1985.7,6],[1985.8,2],[1985.93,6],[1986.01,12],[1986.1,2],[1986.77,6],[1986.91,4],[1987.1,2],[1987.47,2],[1987.56,14],[1987.67,3],[1988.02,6],[1988.12,2],[1988.5,4],[1988.64,2],[1988.82,3],[1988.92,12],[1989.0,3],[1989.2,5],[1989.37,5],[1989.47,16],[1989.57,13],[1989.66,15],[1989.74,8],[1989.84,3],[1990.3,5],[1990.48,4],[1990.57,14],[1990.69,6],[1990.79,8],[1990.87,3],[1991.52,3],[1991.62,5],[1991.71,9],[1991.83,2],[1992.3,4],[1992.45,2],[1992.69,3],[1992.75,18],[1992.84,20],[1992.94,5],[1993.06,2],[1993.68,3],[1993.76,22],[1993.86,6],[1993.99,9],[1994.07,3],[1995.28,3],[1995.46,15],[1995.55,12],[1995.67,13],[1995.77,5],[1995.95,3],[1996.2,3],[1996.39,10],[1996.58,14],[1996.74,9],[1996.84,10],[1996.95,2],[1998.61,3],[1998.8,5],[1999.0,2],[1999.6,2],[1999.72,4],[1999.9,2],[2000.7,5],[2000.86,18],[2001.01,3],[2001.34,9],[2001.5,5],[2001.8,3],[2002.0,2],[2003.53,2],[2003.68,5],[2003.9,3],[2004.75,5],[2004.91,12],[2005.02,3],[2005.16,15],[2005.27,2],[2007.85,2],[2007.98,3],[2008.1,2],[2009.0,2],[2009.1,3],[2009.2,2],[2010.4,1],[2010.52,6],[2010.64,12],[2010.76,11],[2010.83,6],[2010.91,28],[2011.07,9],[2011.25,3],[2011.77,3],[2011.93,12],[2012.01,7]];

const colV5 = '#4b4ff0';
const colV6 = '#1e8ee8';
const colV7 = '#35d3d6';
const colObs = '#000000';
const tickFont = { family: 'DejaVu Sans', size: 14 };
const inkColor = '#2a2a2a';

// legend drawn inside the plot, like matplotlib's upper-left legend
const boxLegend = {
    id: 'boxLegend',
    afterDatasetsDraw(chart, args, opts) {
        const ctx = chart.ctx;
        const a = chart.chartArea;
        const x0 = a.left + 6, y0 = a.top + 7, w = 153, h = 91;
        ctx.save();
        ctx.fillStyle = 'rgba(255,255,255,0.8)';
        ctx.strokeStyle = '#cccccc';
        ctx.lineWidth = 1;
        ctx.beginPath();
        ctx.roundRect(x0 + 0.5, y0 + 0.5, w, h, 4);
        ctx.fill();
        ctx.stroke();
        ctx.font = '14px "DejaVu Sans"';
        ctx.textBaseline = 'middle';
        opts.items.forEach((it, i) => {
            const yy = y0 + 12.5 + i * 21.8;
            ctx.strokeStyle = it.color;
            ctx.lineWidth = 2.5;
            ctx.beginPath();
            ctx.moveTo(x0 + 7, yy);
            ctx.lineTo(x0 + 37, yy);
            ctx.stroke();
            ctx.fillStyle = inkColor;
            ctx.fillText(it.label, x0 + 48, yy + 1);
        });
        ctx.restore();
    }
};

// left, top and bottom spines (the right one falls outside the picture)
const frame = {
    id: 'frame',
    afterDraw(chart) {
        const ctx = chart.ctx;
        const a = chart.chartArea;
        ctx.save();
        ctx.strokeStyle = '#333333';
        ctx.lineWidth = 1.4;
        ctx.beginPath();
        ctx.moveTo(chart.width, a.top);
        ctx.lineTo(a.left, a.top);
        ctx.lineTo(a.left, a.bottom);
        ctx.lineTo(chart.width, a.bottom);
        ctx.stroke();
        ctx.restore();
    }
};

function lineSet(label, pts, color, width) {
    return {
        label: label, data: pts, borderColor: color, backgroundColor: color,
        borderWidth: width, borderJoinStyle: 'round', borderCapStyle: 'round',
        pointRadius: 0, tension: 0, fill: false, spanGaps: false
    };
}

function makeChart(id, obs, v5, v6, v7, nse, xMin, xMax, xTicks, yMin, yMax, yTicks) {
    const grid = {
        color: 'rgba(40,150,40,0.8)', lineWidth: 1,
        tickLength: 6, tickColor: '#333', tickWidth: 1, tickBorderDash: []
    };
    const border = { display: false, dash: [1.5, 2.5] };
    return new Chart(document.getElementById(id), {
        type: 'line',
        data: {
            datasets: [
                lineSet('Observed', obs, colObs, 2),
                lineSet('v7: NSE=' + nse[2], v7, colV7, 2),
                lineSet('v6: NSE=' + nse[1], v6, colV6, 2),
                lineSet('v5: NSE=' + nse[0], v5, colV5, 2)
            ]
        },
        options: {
            responsive: false,
            animation: false,
            events: [],
            layout: { padding: { top: 7, right: 0, left: 0, bottom: 0 } },
            scales: {
                x: {
                    type: 'linear', min: xMin, max: xMax,
                    afterBuildTicks: s => { s.ticks = xTicks.map(v => ({ value: v })); },
                    afterFit: s => { s.height = 30; },
                    ticks: { font: tickFont, color: inkColor, padding: 3, maxRotation: 0, callback: v => String(v) },
                    grid: grid, border: border
                },
                y: {
                    type: 'linear', min: yMin, max: yMax,
                    afterBuildTicks: s => { s.ticks = yTicks.map(v => ({ value: v })); },
                    afterFit: s => { s.width = 73; },
                    ticks: { font: tickFont, color: inkColor, padding: 3, callback: v => String(v) },
                    grid: grid, border: border,
                    title: { display: true, text: 'Runoff [mm]', font: tickFont, color: inkColor, padding: { top: 10.5, bottom: 0 } }
                }
            },
            plugins: {
                legend: { display: false },
                tooltip: { enabled: false },
                boxLegend: {
                    items: [
                        { label: 'v5: NSE=' + nse[0], color: colV5 },
                        { label: 'v6: NSE=' + nse[1], color: colV6 },
                        { label: 'v7: NSE=' + nse[2], color: colV7 },
                        { label: 'Observed', color: colObs }
                    ]
                }
            }
        },
        plugins: [boxLegend, frame]
    });
}

// x ranges end where the picture is cut, just short of the right spine
makeChart('cA', obsA, v5A, v6A, v7A, nseA, 1981.55, 2013.28, xTicksA, -23, 477, yTicksA);
makeChart('cB', obsB, v5B, v6B, v7B, nseB, 1979.5, 2013.34, xTicksBCD, -5.5, 114.5, yTicksB);
makeChart('cC', obsC, v5C, v6C, v7C, nseC, 1979.5, 2013.34, xTicksBCD, -17, 388, yTicksC);
makeChart('cD', obsD, v5D, v6D, v7D, nseD, 1979.5, 2013.34, xTicksBCD, -3.1, 66.4, yTicksD);
</script>
</body>
</html>
